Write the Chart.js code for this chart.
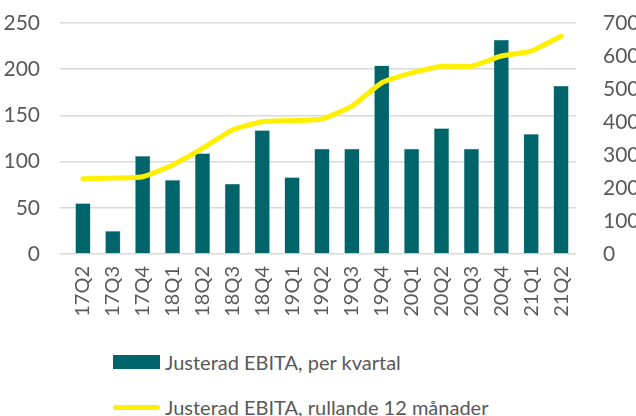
<!DOCTYPE html>
<html>
<head>
<meta charset="utf-8">
<script src="https://cdn.jsdelivr.net/npm/chart.js@4"></script>
<style>
  body { margin: 0; background: #fff; font-family: Lato, "Open Sans", sans-serif; }
  #wrap { position: relative; width: 636px; height: 416px; }
  #legend { position: absolute; left: 113px; top: 348px; color: #595959; font-size: 20px; }
  .item { display: flex; align-items: center; height: 28px; margin-bottom: 17px; }
  .sw { width: 47px; margin-right: 5px; }
</style>
</head>
<body>
<div id="wrap">
  <canvas id="ebitaChart" width="636" height="330" style="width:636px;height:330px"></canvas>
  <div id="legend">
    <div class="item"><div class="sw" style="height:14px;background:#00646b"></div>Justerad EBITA, per kvartal</div>
    <div class="item"><div class="sw" style="height:5px;border-radius:3px;background:#fff000"></div>Justerad EBITA, rullande 12 månader</div>
  </div>
</div>
<script>
let quarters = ['17Q2', '17Q3', '17Q4', '18Q1', '18Q2', '18Q3', '18Q4', '19Q1', '19Q2',
  '19Q3', '19Q4', '20Q1', '20Q2', '20Q3', '20Q4', '21Q1', '21Q2'];
let perQuarter = [55, 25, 106, 80, 109, 76, 134, 83, 114, 114, 204, 114, 136, 114, 232, 130, 182];
let rolling12 = [228, 230, 234, 270, 320, 376, 401, 404, 409, 448, 519, 549, 569, 569, 600, 615, 660];

let tickFont = { family: 'Lato, "Open Sans", sans-serif', size: 21 };

let ctx = document.getElementById('ebitaChart').getContext('2d');

let myChart = new Chart(ctx, {
  type: 'bar',
  data: {
    labels: quarters,
    datasets: [{
      type: 'line',
      label: 'Justerad EBITA, rullande 12 månader',
      data: rolling12,
      yAxisID: 'y2',
      borderColor: '#fff000',
      borderWidth: 5,
      pointRadius: 0,
      tension: 0.15,
      borderCapStyle: 'round'
    }, {
      label: 'Justerad EBITA, per kvartal',
      data: perQuarter,
      yAxisID: 'y',
      backgroundColor: '#00646b',
      borderColor: '#7fb1b5',
      borderWidth: 0.5,
      categoryPercentage: 1,
      barPercentage: 0.51
    }]
  },
  options: {
    responsive: false,
    animation: false,
    layout: { padding: { top: 23, left: 0, right: 0, bottom: 0 } },
    plugins: { legend: { display: false }, tooltip: { enabled: false } },
    scales: {
      x: {
        grid: { display: false },
        border: { display: false },
        ticks: { color: '#595959', font: { family: tickFont.family, size: 20 }, minRotation: 90, maxRotation: 90, padding: 4 },
        afterFit: s => { s.height = 76; s.paddingLeft = 0; s.paddingRight = 0; }
      },
      y: {
        position: 'left',
        min: 0, max: 250,
        ticks: { stepSize: 50, color: '#595959', font: tickFont, padding: 20 },
        grid: { color: '#d9d9d9', lineWidth: 1.5 },
        border: { display: false },
        afterFit: s => { s.width = 68; s.paddingTop = 0; s.paddingBottom = 0; }
      },
      y2: {
        position: 'right',
        min: 0, max: 700,
        ticks: { stepSize: 100, color: '#595959', font: tickFont, padding: 19 },
        grid: { display: false },
        border: { display: false },
        afterFit: s => { s.width = 60; s.paddingTop = 0; s.paddingBottom = 0; }
      }
    }
  }
});
</script>
</body>
</html>
